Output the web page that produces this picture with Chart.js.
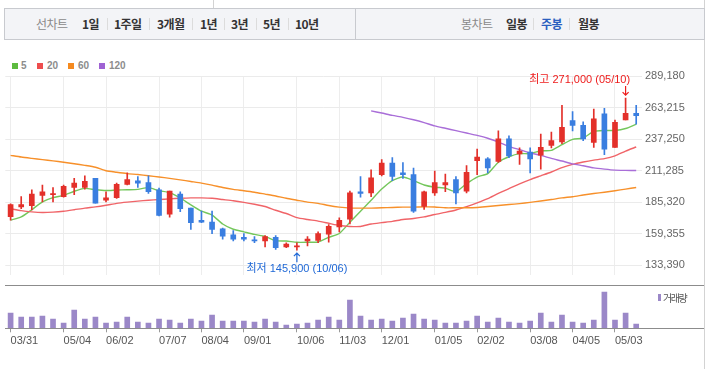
<!DOCTYPE html>
<html lang="ko">
<head>
<meta charset="utf-8">
<title>주봉 차트</title>
<script src="https://cdn.jsdelivr.net/npm/chart.js@4.4.0/dist/chart.umd.min.js"></script>
<style>
  body { margin: 0; background: #fff; }
  #wrap { position: relative; width: 707px; height: 369px; overflow: hidden; font-family: "Noto Sans CJK KR", sans-serif; }
  .abs { position: absolute; white-space: nowrap; }
  .tab { top: 17px; font-size: 12px; line-height: 14px; letter-spacing: -0.6px; font-weight: bold; color: #333; }
  .tab.gray { font-weight: normal; color: #8a8a8a; }
  .tab.on { color: #2b5fc0; }
  .sep { top: 18px; width: 1px; height: 12px; background: #dcdcdc; }
  .lg-box { top: 63px; width: 6px; height: 6px; }
  .lg-txt { top: 60px; font: bold 10px/12px "Liberation Sans", sans-serif; color: #8c8c8c; }
  canvas { position: absolute; left: 0; }
</style>
</head>
<body>
<div id="wrap">
  <!-- frame bits -->
  <div class="abs" style="left:0;top:0;width:213px;height:8px;border-right:1px solid #d3d3d3;"></div>
  <div class="abs" style="left:704px;top:0;width:1px;height:369px;background:#d3d3d3;"></div>
  <div class="abs" style="left:4px;top:8px;width:699px;height:30px;background:#f3f4f7;border:1px solid #c8cacf;"></div>
  <div class="abs" style="left:355px;top:9px;width:1px;height:30px;background:#c8cacf;"></div>

  <!-- period tabs -->
  <span class="abs tab gray" style="left:36px">선차트</span>
  <span class="abs tab" style="left:82px">1일</span>
  <div class="abs sep" style="left:107px"></div>
  <span class="abs tab" style="left:114px">1주일</span>
  <div class="abs sep" style="left:149px"></div>
  <span class="abs tab" style="left:157px">3개월</span>
  <div class="abs sep" style="left:192px"></div>
  <span class="abs tab" style="left:200px">1년</span>
  <div class="abs sep" style="left:224px"></div>
  <span class="abs tab" style="left:231px">3년</span>
  <div class="abs sep" style="left:256px"></div>
  <span class="abs tab" style="left:263px">5년</span>
  <div class="abs sep" style="left:288px"></div>
  <span class="abs tab" style="left:295px">10년</span>

  <span class="abs tab gray" style="left:461px">봉차트</span>
  <span class="abs tab" style="left:506px">일봉</span>
  <div class="abs sep" style="left:533px"></div>
  <span class="abs tab on" style="left:541px">주봉</span>
  <div class="abs sep" style="left:569px"></div>
  <span class="abs tab" style="left:578px">월봉</span>

  <!-- moving average legend -->
  <div class="abs lg-box" style="left:12px;background:#5dbb3f"></div>
  <span class="abs lg-txt" style="left:21px">5</span>
  <div class="abs lg-box" style="left:37px;background:#ee4d4d"></div>
  <span class="abs lg-txt" style="left:47px">20</span>
  <div class="abs lg-box" style="left:68px;background:#f58a1f"></div>
  <span class="abs lg-txt" style="left:78px">60</span>
  <div class="abs lg-box" style="left:99px;background:#9f62d3"></div>
  <span class="abs lg-txt" style="left:109px">120</span>

  <canvas id="priceChart" width="707" height="225" style="top:60px"></canvas>
  <canvas id="volChart" width="707" height="84" style="top:285px"></canvas>

  <!-- pane separators -->
  <div class="abs" style="left:5px;top:285px;width:699px;height:1px;background:#8c8c8c;"></div>
  <div class="abs" style="left:5px;top:328px;width:699px;height:1px;background:#8c8c8c;"></div>

  <!-- volume legend -->
  <div class="abs" style="left:658px;top:294px;width:3px;height:7px;background:#9b88c8;"></div>
  <span class="abs" style="left:663px;top:291px;font-size:10px;line-height:13px;letter-spacing:-1.4px;color:#555;">거래량</span>
</div>

<script>
// weekly candles, oldest first
const opens  = [173500,181500,182500,191000,191500,190000,197500,197500,205000,187000,
                189000,200000,203000,201500,195500,175500,192000,180500,170500,169000,
                163500,158500,156500,154500,153500,156500,148500,148500,153500,154000,
                159000,165000,171500,194000,193000,208000,217500,209500,208000,182000,
                193000,199500,204000,194500,219500,221000,219000,237500,225000,226500,
                224000,232000,235000,252500,248500,234500,258000,230500,253000,258500];
const highs  = [184000,190000,195500,199500,197500,199500,205000,207000,205000,194000,
                201000,209500,206500,207000,197000,194500,194000,180500,178000,178000,
                164000,162000,159500,157000,158000,158000,152000,152000,157000,161000,
                167000,172500,194500,206500,212000,220500,222000,218000,213500,194500,
                211000,208500,206500,215500,229000,222000,244000,240000,230000,230000,
                241500,243000,265000,260000,251500,262000,262500,253000,271000,265000];
const lows   = [170500,180000,179000,185500,185500,189500,191500,196000,184500,185500,
                188500,199500,197500,192500,174000,173000,177500,163000,168500,159500,
                155000,153500,153500,152000,148500,146500,148000,145900,149500,152000,
                152500,161000,167500,189500,190000,207000,203000,205000,177000,179500,
                191000,194000,184000,193000,208000,209500,218000,222000,216500,209500,
                212500,230000,233500,244000,236000,230500,224500,230500,253000,249500];
const closes = [183500,183500,192000,194000,192500,198500,201000,202500,184500,189000,
                200000,204000,201000,194000,174500,194500,180000,168500,169000,163000,
                157500,155000,155000,153500,157000,148000,151000,149500,155000,159500,
                165500,170500,193000,192500,205500,217500,206500,208000,178000,194000,
                201500,201500,193000,210000,222500,213500,237500,223500,227500,221000,
                230500,236000,247000,248500,237500,254000,229000,251000,258500,256500];

// moving averages as drawn
const ma5  = [170600,173260,179200,185610,189130,190920,194360,196710,195620,194990,
              195380,195620,195930,197330,194830,193270,188890,183110,177950,174820,
              167470,163100,160980,158870,157310,153710,153400,152390,152390,152620,
              156450,159660,168800,177950,187010,196160,203200,206090,203200,199520,
              197720,196940,194050,200620,206090,208900,218280,222740,225320,225320,
              227660,227980,232670,237040,238150,243610,244390,244390,245960,249550];
const ma20 = [179980,178420,177400,176850,177170,177950,179200,180530,181540,182870,
              184440,185450,186230,187010,187560,188110,188580,188890,188890,188580,
              187560,186550,185220,183650,181860,178730,176070,172710,171150,169820,
              168020,166220,165440,165440,167470,168570,169580,171150,171930,173260,
              175290,177010,178960,181700,184830,188340,192640,196550,200460,203980,
              207100,210230,213750,216490,218440,220000,221180,223520,227430,230790];
const ma60 = [223910,222500,221410,220390,219380,218280,217030,215700,214140,211250,
              210000,208900,208120,207100,206090,204990,203740,202410,201090,199440,
              197490,195930,194830,193580,192020,190450,188580,187010,185450,184440,
              182640,181310,180530,180530,180530,180760,181070,181310,181310,181540,
              181470,180760,180760,180760,181070,181860,182640,183420,184200,185220,
              186390,187560,188890,189910,191240,192490,193580,194830,196160,197490];
// 120 week line only starts at week 34
const ma120From = 34;
const ma120 = [260500,258700,256740,255180,253230,250880,248140,246190,244240,242280,
               240330,237980,234860,231340,228600,225870,223910,221410,219220,216880,
               215310,213590,212580,211790,211560,211400];

const volumes = [460,340,340,370,280,160,550,280,340,160,190,340,190,160,280,250,160,280,220,400,
                 220,220,220,190,280,190,100,130,160,250,340,250,850,370,250,280,220,310,430,280,
                 250,160,160,220,370,190,310,190,160,220,460,190,400,190,160,250,1090,250,460,130];

// axis ticks
const tickIdx    = [0, 5, 9, 14, 18, 22, 27, 31, 35, 40, 44, 49, 53, 57];
const tickLabels = ['03/31','05/04','06/02','07/07','08/04','09/01','10/06','11/03','12/01','01/05','02/02','03/08','04/05','05/03'];
const priceTicks = [133390, 159355, 185320, 211285, 237250, 263215, 289180];
const priceMin = 125570, priceMax = 289180;
const volMax = 1270;
const hiDate = '05/10', loDate = '10/06';

const UP = '#e3302a', DOWN = '#3a7ee0';
const FONT = '"Liberation Sans", "Noto Sans CJK KR", sans-serif';
Chart.defaults.font.family = FONT;

function fmt(v) { return v.toLocaleString('en-US'); }
function pts(arr, from) { return arr.map((v, i) => ({ x: i + (from || 0), y: v })); }

const candleColors = opens.map((o, i) => closes[i] >= o ? UP : DOWN);

// min / max markers
function arrow(ctx, x, tail, tip) {
    const d = tip > tail ? -3 : 3;
    ctx.beginPath();
    ctx.moveTo(x, tail); ctx.lineTo(x, tip);
    ctx.moveTo(x - 3, tip + d); ctx.lineTo(x, tip); ctx.lineTo(x + 3, tip + d);
    ctx.stroke();
}
const extremes = {
    id: 'extremes',
    afterDatasetsDraw(chart) {
        const { ctx, scales: { x, y } } = chart;
        const hi = Math.max(...highs), hiI = highs.indexOf(hi);
        const lo = Math.min(...lows), loI = lows.indexOf(lo);
        ctx.save();
        ctx.font = '11px ' + FONT;
        ctx.textBaseline = 'middle';
        ctx.lineWidth = 1.2;

        let px = x.getPixelForValue(hiI), py = y.getPixelForValue(hi);
        ctx.fillStyle = ctx.strokeStyle = '#ee1b1b';
        ctx.textAlign = 'right';
        ctx.fillText('최고 ' + fmt(hi) + ' (' + hiDate + ')', px + 4.5, py - 18.5);
        arrow(ctx, px, py - 12, py - 3);

        px = x.getPixelForValue(loI); py = y.getPixelForValue(lo);
        ctx.fillStyle = ctx.strokeStyle = '#1f68d6';
        ctx.textAlign = 'center';
        ctx.fillText('최저 ' + fmt(lo) + ' (' + loDate + ')', px, py + 19);
        arrow(ctx, px, py + 12, py + 3);
        ctx.restore();
    }
};

var priceChart = new Chart(document.getElementById('priceChart'), {
    type: 'bar',
    data: {
        datasets: [
            { type: 'line', data: pts(ma120, ma120From), borderColor: '#a96ed8', borderWidth: 1.4, pointRadius: 0, tension: 0.2, order: 3 },
            { type: 'line', data: pts(ma60), borderColor: '#f7902a', borderWidth: 1.4, pointRadius: 0, tension: 0.2, order: 3 },
            { type: 'line', data: pts(ma20), borderColor: '#f06468', borderWidth: 1.4, pointRadius: 0, tension: 0.2, order: 3 },
            { type: 'line', data: pts(ma5), borderColor: '#74c75c', borderWidth: 1.4, pointRadius: 0, tension: 0.2, order: 3 },
            // wicks
            { data: lows.map((l, i) => ({ x: i, y: [l, highs[i]] })), backgroundColor: candleColors,
              barThickness: 1, grouped: false, order: 2 },
            // bodies
            { data: opens.map((o, i) => ({ x: i, y: [o, closes[i]] })), backgroundColor: candleColors,
              barThickness: 5, grouped: false, minBarLength: 1, order: 1 }
        ]
    },
    options: {
        responsive: false,
        animation: false,
        devicePixelRatio: 1,
        layout: { padding: { left: 5.3, top: 16, right: 0, bottom: 0 } },
        plugins: { legend: { display: false }, tooltip: { enabled: false } },
        scales: {
            x: {
                type: 'linear', min: -0.5, max: 59.5, offset: false,
                grid: { color: '#ededed', drawTicks: false, offset: false },
                border: { display: false },
                ticks: { display: false },
                afterBuildTicks: s => { s.ticks = tickIdx.map(v => ({ value: v })); },
                afterFit: s => { s.height = 0; }
            },
            y: {
                position: 'right', min: priceMin, max: priceMax,
                grid: { color: '#ebebeb', drawTicks: false },
                border: { display: false },
                ticks: { color: '#666', font: { size: 11 }, padding: 3.5, callback: v => fmt(v) },
                afterBuildTicks: s => { s.ticks = priceTicks.map(v => ({ value: v })); },
                afterFit: s => { s.width = 65.5; }
            }
        }
    },
    plugins: [extremes]
});

var volChart = new Chart(document.getElementById('volChart'), {
    type: 'bar',
    data: {
        datasets: [{ data: pts(volumes), backgroundColor: '#9b88c8', barThickness: 5 }]
    },
    options: {
        responsive: false,
        animation: false,
        devicePixelRatio: 1,
        layout: { padding: { left: 5.3, top: 1, right: 65.5, bottom: 0 } },
        plugins: { legend: { display: false }, tooltip: { enabled: false } },
        scales: {
            x: {
                type: 'linear', min: -0.5, max: 59.5, offset: false,
                grid: { drawOnChartArea: false, drawTicks: true, tickLength: 4, color: '#999', offset: false },
                border: { display: false },
                ticks: {
                    align: 'start', autoSkip: false, maxRotation: 0, padding: 2,
                    color: '#555', font: { size: 11 },
                    callback: v => tickLabels[tickIdx.indexOf(v)]
                },
                afterBuildTicks: s => { s.ticks = tickIdx.map(v => ({ value: v })); },
                afterFit: s => { s.height = 40.7; }
            },
            y: { display: false, min: 0, max: volMax }
        }
    }
});
</script>
</body>
</html>
